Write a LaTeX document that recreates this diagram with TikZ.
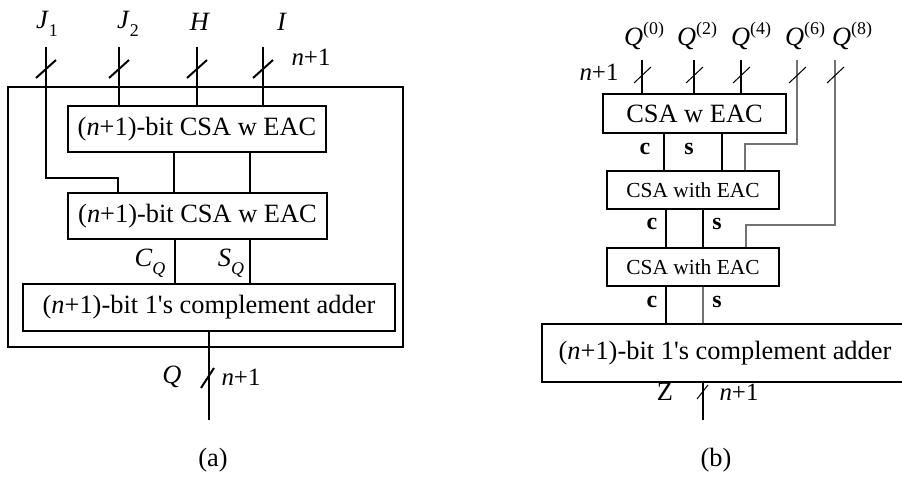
\documentclass[tikz,border=0pt]{standalone}
\usepackage{fontspec}
\setmainfont{Liberation Serif}
\usetikzlibrary{calc}

% sub- and superscripts sized for the large body text
\newcommand{\lsub}[1]{\raisebox{-0.32em}{\fontsize{18}{18}\selectfont #1}}
\newcommand{\lsup}[1]{\raisebox{0.42em}{\fontsize{18}{18}\selectfont #1}}

\tikzset{
  every node/.style={font=\fontsize{26.5}{30}\selectfont, inner sep=0pt},
  blockA/.style={draw, line width=2bp, minimum width=#1, minimum height=46bp},
  blockB/.style={draw, line width=2bp, minimum width=#1, minimum height=38bp,
                 font=\fontsize{21.5}{24}\selectfont},
  wireA/.style={line width=1.8bp},
  wireB/.style={line width=1.1bp},
  greywire/.style={line width=1.1bp, draw=black!55},
  busA/.style={line width=2bp},
  busB/.style={line width=1bp},
  sumlbl/.style={font=\fontsize{24}{26}\selectfont\bfseries},
  buslbl/.style={font=\fontsize{25}{28}\selectfont},
}

\begin{document}
\begin{tikzpicture}[x=1bp, y=-1bp]
\useasboundingbox (0,0) rectangle (902,481);
\clip (0,0) rectangle (902,481);

%% ---------------- (a) ----------------
\draw[line width=2bp] (8,87) rectangle (403,347);

\node[blockA=258bp] (csa1) at (197,129) {(\textit{n}+1)-bit CSA w EAC};
\node[blockA=259bp] (csa2) at (197.5,216) {(\textit{n}+1)-bit CSA w EAC};
\node[blockA=372bp, minimum height=47bp] (addA) at (209,307.5) {(\textit{n}+1)-bit 1\textquotesingle s complement adder};

\coordinate (inJ1) at (46,47);
\coordinate (inJ2) at (119,47);
\coordinate (inH)  at (197,47);
\coordinate (inI)  at (263,47);
\coordinate (j1turn) at (118,178);
\coordinate (outQ) at (209,420);

\node (lJ1) at (47,24) {\textit{J}\lsub{1}};
\node (lJ2) at (128,24) {\textit{J}\lsub{2}};
\node (lH)  at (200,22) {\textit{H}};
\node (lI)  at (282,22) {\textit{I}};
\node[buslbl] (lNa) at (311,57) {\textit{n}+1};

\draw[busA] (inJ1) |- (j1turn) -- (j1turn |- csa2.north);
\draw[busA] (inJ2) -- (inJ2 |- csa1.north);
\draw[busA] (inH)  -- (inH |- csa1.north);
\draw[busA] (inI)  -- (inI |- csa1.north);
\foreach \p in {inJ1,inJ2,inH,inI}
  \draw[busA] ($(\p)+(-10,31)$) -- ++(20,-18);

\draw[wireA] ([xshift=-23bp]csa1.south) -- ([xshift=-23bp]csa1.south |- csa2.north);
\draw[wireA] ([xshift=53bp]csa1.south) -- ([xshift=53bp]csa1.south |- csa2.north);
\draw[wireA] ([xshift=-22.5bp]csa2.south) -- ([xshift=-22.5bp]csa2.south |- addA.north);
\draw[wireA] ([xshift=52.5bp]csa2.south) -- ([xshift=52.5bp]csa2.south |- addA.north);

\node (lCQ) at (150,263) {\textit{C}\lsub{\textit{Q}}};
\node (lSQ) at (231,263) {\textit{S}\lsub{\textit{Q}}};

\draw[busA] (addA.south) -- (outQ);
\draw[busA] (201,388) -- (214,368);
\node (lQ) at (172,377) {\textit{Q}};
\node[buslbl] (lNb) at (241,377) {\textit{n}+1};

\node (capA) at (213,460) {(a)};

%% ---------------- (b) ----------------
\node[draw, line width=2bp, minimum width=183bp, minimum height=39bp] (csaA) at (694.5,113.5) {CSA w EAC};
\node[blockB=172bp] (csaB) at (693,190) {CSA with EAC};
\node[blockB=172bp] (csaC) at (693,267) {CSA with EAC};
\node[draw, line width=2bp, minimum width=366bp, minimum height=58bp] (addB) at (725,353)
      {(\textit{n}+1)-bit 1\textquotesingle s complement adder};

\coordinate (q0) at (642,60);
\coordinate (q2) at (694,60);
\coordinate (q4) at (741,60);
\coordinate (q6) at (797,60);
\coordinate (q8) at (835,60);
\coordinate (q6turn) at (745,144);
\coordinate (q8turn) at (746,225);
\coordinate (outZ) at (703,420);

\node (lQ0) at (644,36) {\textit{Q}\lsup{(0)}};
\node (lQ2) at (697,36) {\textit{Q}\lsup{(2)}};
\node (lQ4) at (751,36) {\textit{Q}\lsup{(4)}};
\node (lQ6) at (805,36) {\textit{Q}\lsup{(6)}};
\node (lQ8) at (852,36) {\textit{Q}\lsup{(8)}};
\node[buslbl] (lNc) at (599,72) {\textit{n}+1};

\draw[wireB] (q0) -- (q0 |- csaA.north);
\draw[wireB] (q2) -- (q2 |- csaA.north);
\draw[wireB] (q4) -- (q4 |- csaA.north);
\draw[greywire] (q6) |- (q6turn) -- (q6turn |- csaB.north);
\draw[greywire] (q8) |- (q8turn) -- (q8turn |- csaC.north);
\foreach \p in {q0,q2,q4,q6,q8}
  \draw[busB] ($(\p)+(-8,23)$) -- ++(17,-16);

\draw[wireB] (664,0 |- csaA.south) -- (664,0 |- csaB.north);
\draw[wireB] (722,0 |- csaA.south) -- (722,0 |- csaB.north);
\draw[wireB] (666,0 |- csaB.south) -- (666,0 |- csaC.north);
\draw[wireB] (703,0 |- csaB.south) -- (703,0 |- csaC.north);
\draw[wireB] (666,0 |- csaC.south) -- (666,0 |- addB.north);
\draw[greywire] (703,0 |- csaC.south) -- (703,0 |- addB.north);

\node[sumlbl] (c1) at (645,149) {c};
\node[sumlbl] (s1) at (689,149) {s};
\node[sumlbl] (c2) at (652,224) {c};
\node[sumlbl] (s2) at (717,224) {s};
\node[sumlbl] (c3) at (652,302) {c};
\node[sumlbl] (s3) at (717,302) {s};

\draw[wireB] (703,0 |- addB.south) -- (outZ);
\draw[busB] (697,399) -- (708,385);
\node (lZ) at (665,392) {Z};
\node[buslbl] (lNd) at (739,392) {\textit{n}+1};

\node (capB) at (716,460) {(b)};
\end{tikzpicture}
\end{document}
